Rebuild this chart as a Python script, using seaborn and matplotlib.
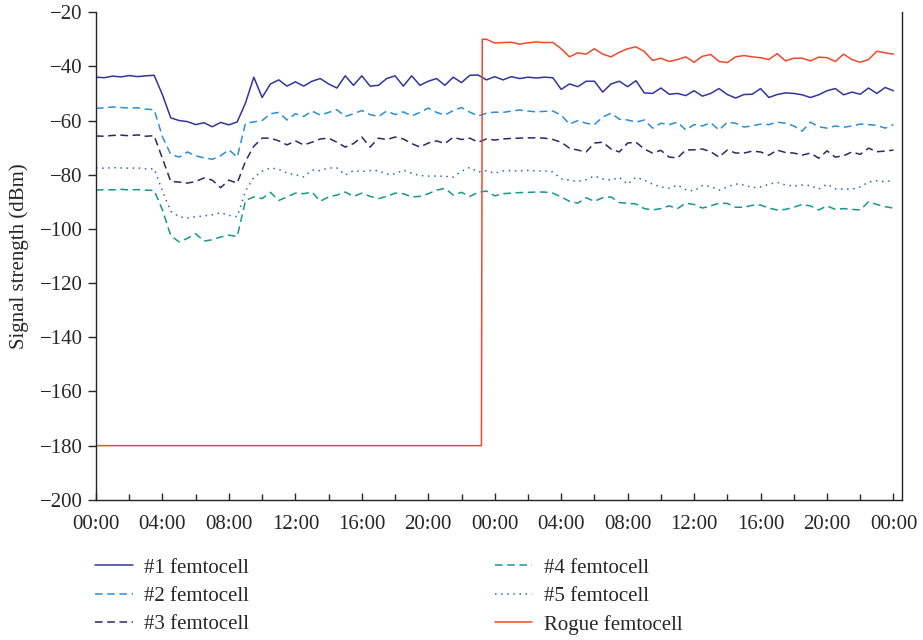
import matplotlib
matplotlib.use("Agg")
import matplotlib.pyplot as plt
from matplotlib.ticker import MultipleLocator
import numpy as np
import pandas as pd
import seaborn as sns

# samples every 30 min over two days
hours = np.arange(0, 48.5, 0.5)

femto1 = [
    -44.0, -44.2, -43.6, -43.9, -43.4, -43.8, -43.5, -43.3,
    -50.5, -59.0, -60.0, -60.4, -61.5, -60.8, -62.3, -60.7,
    -61.6, -60.5, -53.5, -44.0, -51.5, -46.5, -45.0, -47.3,
    -45.7, -47.3, -45.5, -44.5, -46.5, -48.0, -43.5, -47.0,
    -43.5, -47.3, -47.0, -44.5, -43.5, -47.3, -43.5, -47.0,
    -45.5, -44.5, -47.0, -44.0, -46.0, -43.3, -43.2, -45.0,
    -43.8, -45.0, -43.8, -44.5, -44.0, -44.3, -44.0, -44.2,
    -48.5, -46.5, -47.5, -45.5, -45.5, -49.5, -46.5, -45.5,
    -47.5, -45.3, -49.8, -50.0, -48.0, -50.3, -50.0, -50.8,
    -49.0, -51.0, -50.0, -48.2, -50.4, -51.7, -50.4, -50.3,
    -48.2, -51.5, -50.4, -49.8, -50.0, -50.5, -51.5, -50.5,
    -49.0, -48.2, -50.5, -49.5, -50.3, -48.0, -50.0, -47.8,
    -49.0,
]

femto2 = [
    -55.5, -55.3, -55.0, -55.2, -55.4, -55.3, -55.8, -56.0,
    -66.0, -72.5, -73.5, -71.6, -73.0, -73.8, -74.3, -73.0,
    -70.8, -73.5, -61.0, -60.5, -60.0, -57.5, -57.0, -59.8,
    -57.5, -58.5, -56.5, -58.0, -57.0, -56.0, -58.5, -57.5,
    -56.3, -57.8, -58.5, -56.5, -57.8, -56.8, -58.3, -57.0,
    -55.4, -57.0, -58.0, -56.3, -55.2, -56.9, -58.3, -57.3,
    -56.9, -57.0, -56.5, -56.1, -56.5, -56.8, -56.6, -56.5,
    -58.0, -61.3, -60.0, -61.0, -61.5, -58.7, -57.3, -59.5,
    -59.8, -60.6, -59.8, -62.8, -61.0, -61.5, -60.6, -63.5,
    -61.5, -62.0, -60.8, -63.5, -60.6, -61.0, -62.4, -62.0,
    -61.3, -61.5, -60.6, -61.0, -62.0, -63.9, -60.6, -62.3,
    -62.8, -62.0, -62.5, -62.0, -61.3, -61.5, -61.8, -62.8,
    -61.5,
]

femto3 = [
    -65.7, -65.8, -65.5, -65.4, -65.6, -65.3, -65.8, -65.6,
    -74.0, -82.5, -82.7, -83.1, -82.5, -81.2, -82.0, -84.8,
    -82.0, -83.1, -75.0, -69.5, -66.5, -66.5, -67.5, -69.0,
    -67.5, -69.0, -68.0, -66.8, -66.5, -68.0, -69.8, -68.5,
    -66.1, -69.8, -66.5, -67.0, -66.1, -66.8, -68.5, -69.8,
    -68.3, -67.5, -68.5, -66.2, -67.0, -66.5, -68.0, -66.8,
    -67.2, -66.8, -66.6, -66.5, -66.4, -66.4, -66.5, -67.0,
    -68.0, -70.2, -70.9, -71.6, -68.3, -68.0, -70.5, -71.6,
    -68.3, -68.0, -70.5, -72.0, -71.0, -73.5, -73.8, -70.9,
    -70.8, -70.5, -71.5, -73.5, -70.9, -72.0, -72.0, -71.3,
    -71.6, -72.8, -70.9, -71.8, -72.0, -72.8, -72.0, -73.9,
    -71.2, -73.5, -73.0, -71.6, -72.5, -70.2, -71.5, -71.3,
    -70.9,
]

femto4 = [
    -85.7, -85.5, -85.6, -85.4, -85.6, -85.5, -85.7, -85.8,
    -93.0, -102.5, -104.8, -103.5, -101.8, -104.5, -104.0, -103.0,
    -102.3, -102.8, -89.5, -88.2, -88.8, -86.5, -89.5, -88.2,
    -86.8, -87.0, -86.4, -89.8, -88.2, -87.5, -86.4, -88.0,
    -86.8, -88.0, -88.8, -88.0, -86.8, -87.0, -88.2, -88.0,
    -87.0, -85.7, -85.0, -87.5, -86.5, -88.0, -86.5, -86.0,
    -87.8, -87.0, -86.8, -86.6, -86.5, -86.4, -86.4, -86.8,
    -88.2, -89.8, -90.5, -88.5, -89.8, -88.5, -88.2, -90.3,
    -90.5, -90.8, -92.5, -93.0, -92.5, -91.5, -92.5, -90.5,
    -91.0, -92.3, -91.5, -90.5, -90.6, -92.0, -92.0, -91.3,
    -91.2, -92.3, -93.0, -92.8, -92.0, -91.0, -91.5, -93.0,
    -91.5, -92.8, -92.5, -92.8, -93.0, -90.0, -91.0, -91.8,
    -92.3,
]

femto5 = [
    -77.5, -77.6, -77.4, -77.5, -77.6, -77.5, -77.8, -77.8,
    -86.0, -93.5, -95.5, -96.0, -95.5, -95.2, -94.8, -94.0,
    -95.0, -95.5, -86.0, -81.0, -78.7, -77.5, -78.0, -79.4,
    -80.0, -80.8, -78.3, -78.5, -77.5, -77.5, -80.1, -78.5,
    -78.8, -78.5, -78.5, -79.8, -79.7, -78.3, -79.5, -80.3,
    -80.5, -80.5, -80.6, -80.9, -78.7, -77.3, -79.0, -78.5,
    -79.5, -78.6, -78.5, -78.6, -78.4, -78.6, -78.6, -79.0,
    -81.5, -82.0, -82.5, -81.8, -80.5, -81.5, -82.0, -81.0,
    -83.5, -80.9, -82.0, -83.5, -84.5, -85.0, -83.8, -85.5,
    -86.0, -84.0, -84.3, -85.7, -84.5, -83.4, -83.8, -84.8,
    -84.5, -83.5, -82.8, -83.8, -84.2, -83.8, -84.0, -85.3,
    -83.5, -85.2, -85.3, -85.3, -84.5, -82.7, -82.2, -82.6,
    -82.0,
]

# rogue cell: off (-180) until it switches on around 23:12 on day one
rogue_hours = np.concatenate([[0.0, 23.2, 23.25], np.arange(23.5, 48.5, 0.5)])
rogue = [
    -180.0, -180.0, -30.0,
    -30.0, -31.4, -31.2, -31.1, -31.8, -31.3, -31.0, -31.2, -31.2,
    -33.5, -36.5, -35.0, -35.5, -33.5, -35.5, -36.5, -34.8,
    -33.5, -32.8, -34.5, -37.8, -37.0, -38.2, -37.5, -36.5,
    -38.5, -36.3, -35.6, -38.2, -38.6, -36.5, -36.0, -36.5,
    -36.8, -37.5, -35.3, -38.0, -37.0, -37.0, -38.0, -36.6,
    -36.8, -38.2, -35.5, -37.5, -38.5, -37.5, -34.4, -35.0, -35.5,
]

cell_names = ['#1 femtocell', '#2 femtocell', '#3 femtocell',
              '#4 femtocell', '#5 femtocell', 'Rogue femtocell']
tick_hours = np.arange(0, 49, 4)
tick_labels = ['00:00', '04:00', '08:00', '12:00', '16:00', '20:00', '00:00',
               '04:00', '08:00', '12:00', '16:00', '20:00', '00:00']

frames = []
for name, vals in zip(cell_names[:5], [femto1, femto2, femto3, femto4, femto5]):
    frames.append(pd.DataFrame({'hour': hours, 'dbm': vals, 'cell': name}))
frames.append(pd.DataFrame({'hour': rogue_hours, 'dbm': rogue, 'cell': cell_names[5]}))
df = pd.concat(frames, ignore_index=True)

palette = {
    '#1 femtocell': '#34349a',
    '#2 femtocell': '#2a8fd4',
    '#3 femtocell': '#2b2869',
    '#4 femtocell': '#17978d',
    '#5 femtocell': '#2f68b0',
    'Rogue femtocell': '#f0492b',
}
dashes = {
    '#1 femtocell': '',
    '#2 femtocell': (5, 3),
    '#3 femtocell': (5, 3),
    '#4 femtocell': (5, 3),
    '#5 femtocell': (1, 3),
    'Rogue femtocell': '',
}

sns.set_style('ticks')
plt.rcParams['font.family'] = ['Liberation Serif', 'DejaVu Serif']
plt.rcParams['font.size'] = 15

fig, ax = plt.subplots(figsize=(9.23, 6.4), dpi=100)
fig.subplots_adjust(left=0.104, right=0.977, top=0.981, bottom=0.219)

sns.lineplot(data=df, x='hour', y='dbm', hue='cell', style='cell',
             hue_order=cell_names, style_order=cell_names,
             palette=palette, dashes=dashes, estimator=None,
             linewidth=1.1, ax=ax)

ax.set_xlim(0, 48.5)
ax.set_ylim(-200, -20)
ax.set_xticks(tick_hours)
ax.set_xticklabels(tick_labels)
ax.xaxis.set_minor_locator(MultipleLocator(2))
ax.set_yticks(np.arange(-200, -19, 20))
ax.tick_params(axis='x', which='major', direction='in', length=5, width=1, pad=11, labelsize=15)
ax.tick_params(axis='x', which='minor', direction='in', length=4, width=1)
ax.tick_params(axis='y', direction='out', length=6, width=1, labelsize=15)
ax.set_xlabel('')
ax.set_ylabel('Signal strength (dBm)', fontsize=15, labelpad=8)

ax.spines['top'].set_visible(False)
for side in ['left', 'right', 'bottom']:
    ax.spines[side].set_linewidth(1.0)
    ax.spines[side].set_color('#222222')

handles, labels = ax.get_legend_handles_labels()
ax.get_legend().remove()
fig.legend(handles, labels, loc='upper left', bbox_to_anchor=(0.103, 0.128),
           ncol=2, frameon=False, fontsize=15, borderpad=0, borderaxespad=0,
           handlelength=1.8, handletextpad=0.55, columnspacing=11.8,
           labelspacing=0.42)

fig.savefig('out.png', dpi=100)
